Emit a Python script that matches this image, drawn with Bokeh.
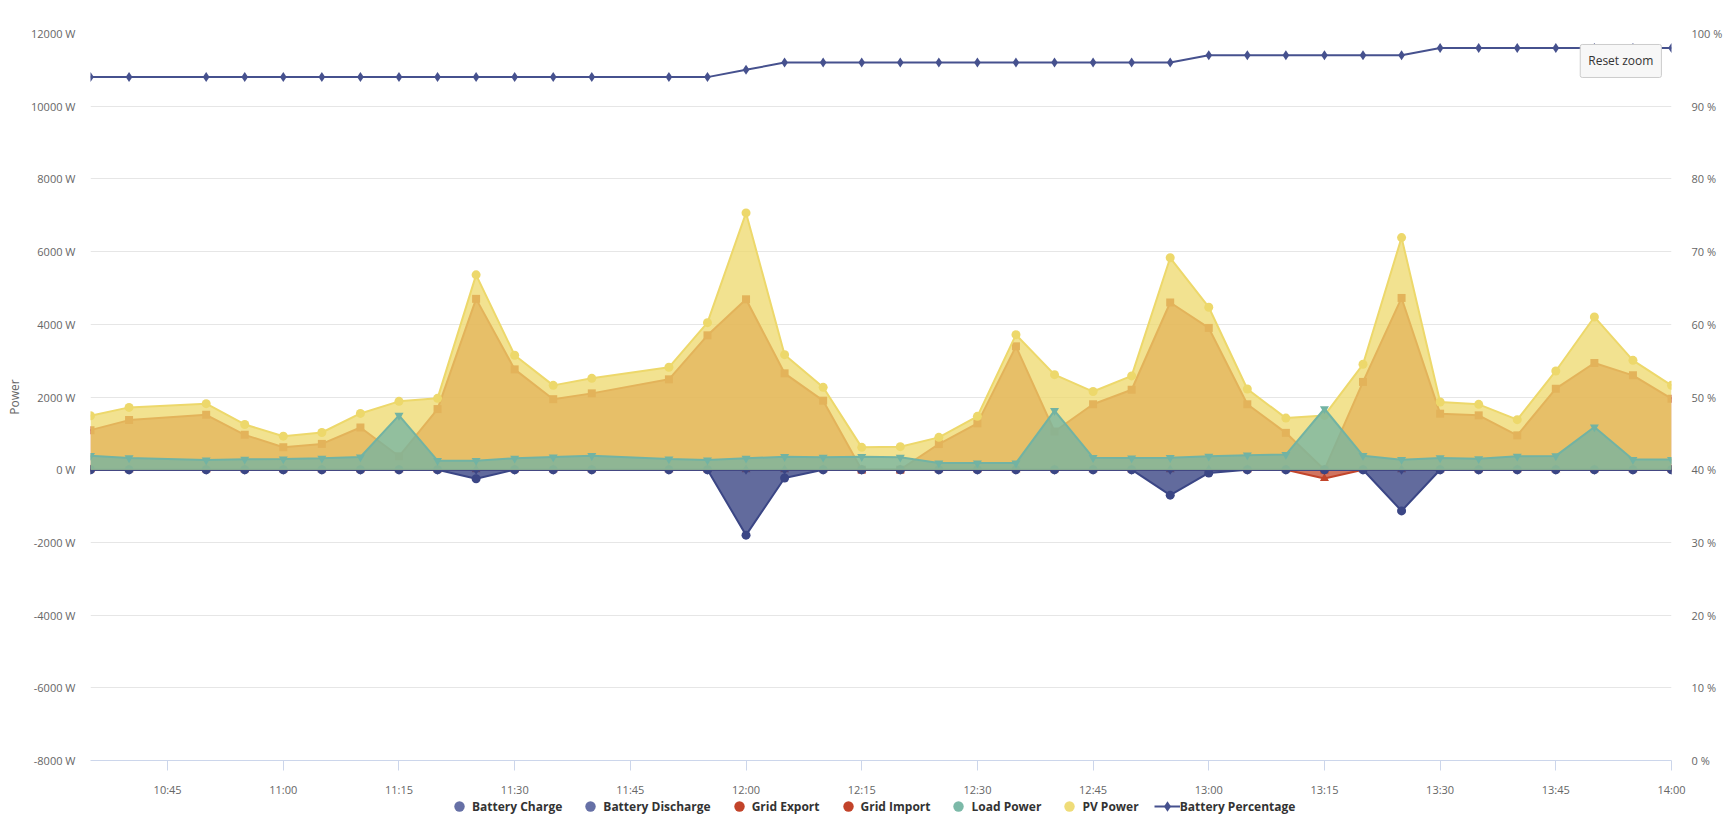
import pandas as pd
from bokeh.plotting import figure
from bokeh.layouts import column
from bokeh.models import (Range1d, LinearAxis, FixedTicker, PrintfTickFormatter,
                          DatetimeTickFormatter, Legend, LegendItem, Label)
from bokeh.embed import file_html
from bokeh.resources import INLINE

# ---------------- data ----------------
times = ["10:35", "10:40", "10:50", "10:55", "11:00", "11:05", "11:10", "11:15", "11:20", "11:25",
         "11:30", "11:35", "11:40", "11:50", "11:55", "12:00", "12:05", "12:10", "12:15", "12:20",
         "12:25", "12:30", "12:35", "12:40", "12:45", "12:50", "12:55", "13:00", "13:05", "13:10",
         "13:15", "13:20", "13:25", "13:30", "13:35", "13:40", "13:45", "13:50", "13:55", "14:00"]

battery_charge = [0, 0, 0, 0, 0, 0, 0, 0, 0, -249,
                  0, 0, 0, 0, 0, -1800, -229, 0, 0, 0,
                  0, 0, 0, 0, 0, 0, -700, -90, 0, 0,
                  0, 0, -1134, 0, 0, 0, 0, 0, 0, 0]
battery_discharge = [0, 0, 0, 0, 0, 0, 0, 0, 0, 0,
                     0, 0, 0, 0, 0, 0, 0, 0, 0, 0,
                     0, 0, 0, 0, 0, 0, 0, 0, 0, 0,
                     0, 0, 0, 0, 0, 0, 0, 0, 0, 0]
grid_export = [1088, 1364, 1511, 959, 618, 710, 1161, 369, 1668, 4700,
               2760, 1940, 2100, 2486, 3697, 4688, 2651, 1899, 0, 0,
               706, 1275, 3394, 1050, 1800, 2200, 4600, 3900, 1800, 1014,
               0, 2415, 4725, 1541, 1495, 945, 2229, 2936, 2596, 1954]
grid_import = [0, 0, 0, 0, 0, 0, 0, 0, 0, 0,
               0, 0, 0, 0, 0, 0, 0, 0, 0, 0,
               0, 0, 0, 0, 0, 0, 0, 0, 0, 0,
               -240, 0, 0, 0, 0, 0, 0, 0, 0, 0]
load_power = [387, 323, 267, 286, 295, 313, 350, 1493, 249, 249,
              313, 350, 385, 294, 266, 312, 358, 340, 358, 340,
              183, 183, 183, 1624, 330, 320, 330, 370, 400, 415,
              1677, 387, 276, 323, 300, 370, 380, 1174, 280, 280]
pv_power = [1484, 1714, 1816, 1244, 922, 1023, 1548, 1880, 1963, 5360,
            3150, 2320, 2514, 2817, 4046, 7064, 3165, 2266, 615, 633,
            890, 1468, 3715, 2615, 2150, 2580, 5830, 4470, 2220, 1419,
            1493, 2900, 6385, 1862, 1798, 1376, 2716, 4202, 3009, 2321]
battery_pct = [94, 94, 94, 94, 94, 94, 94, 94, 94, 94,
               94, 94, 94, 94, 94, 95, 96, 96, 96, 96,
               96, 96, 96, 96, 96, 96, 96, 97, 97, 97,
               97, 97, 97, 98, 98, 98, 98, 98, 98, 98]

x_tick_labels = ["10:45", "11:00", "11:15", "11:30", "11:45", "12:00", "12:15", "12:30",
                 "12:45", "13:00", "13:15", "13:30", "13:45", "14:00"]
power_ticks = [-8000, -6000, -4000, -2000, 0, 2000, 4000, 6000, 8000, 10000, 12000]
pct_ticks = [0, 10, 20, 30, 40, 50, 60, 70, 80, 90, 100]

series_names = ["Battery Charge", "Battery Discharge", "Grid Export", "Grid Import",
                "Load Power", "PV Power", "Battery Percentage"]

# ---------------- helpers ----------------
DAY = "2024-01-01 "
x = pd.to_datetime([DAY + t for t in times])
x_ticks_ms = [int(pd.Timestamp(DAY + t).value // 10**6) for t in x_tick_labels]

FONT = "Open Sans"
BAT = "#3b4685"
RED = "#c2452b"
TEAL = "#72b3a3"
YEL = "#edd86b"
PCT = "#46518e"

p = figure(frame_width=1581, frame_height=727, x_axis_type="datetime",
           x_range=Range1d(x[0], x[-1]), y_range=Range1d(-8000, 12000),
           output_backend="svg", toolbar_location=None,
           min_border_left=90, min_border_right=56, min_border_top=33, min_border_bottom=0)
p.outline_line_color = None
p.background_fill_color = "white"
p.border_fill_color = "white"
p.extra_y_ranges = {"pct": Range1d(0, 100)}

# left axis
ya = p.yaxis[0]
ya.ticker = FixedTicker(ticks=power_ticks)
ya.formatter = PrintfTickFormatter(format="%d W")
ya.axis_line_color = None
ya.major_tick_line_color = None
ya.major_tick_out = 0
ya.major_tick_in = 0
ya.minor_tick_line_color = None
ya.minor_tick_out = 0
ya.major_label_text_font = FONT
ya.major_label_text_font_size = "11px"
ya.major_label_text_color = "#666666"
ya.major_label_standoff = 15
ya.axis_label = "Power"
ya.axis_label_text_font = FONT
ya.axis_label_text_font_size = "12px"
ya.axis_label_text_font_style = "normal"
ya.axis_label_text_color = "#666666"
ya.axis_label_standoff = 5

# grid
p.xgrid.grid_line_color = None
p.ygrid.ticker = FixedTicker(ticks=power_ticks)
p.ygrid.grid_line_color = "#e6e6e6"

# right axis
ra = LinearAxis(y_range_name="pct", ticker=FixedTicker(ticks=pct_ticks),
                formatter=PrintfTickFormatter(format="%d %%"))
ra.axis_line_color = None
ra.major_tick_line_color = None
ra.major_tick_out = 0
ra.major_tick_in = 0
ra.minor_tick_line_color = None
ra.minor_tick_out = 0
ra.major_label_text_font = FONT
ra.major_label_text_font_size = "11px"
ra.major_label_text_color = "#666666"
ra.major_label_standoff = 20
p.add_layout(ra, "right")

# x axis
xa = p.xaxis[0]
xa.ticker = FixedTicker(ticks=x_ticks_ms)
xa.formatter = DatetimeTickFormatter(minutes="%H:%M", hourmin="%H:%M", hours="%H:%M",
                                     minsec="%H:%M", seconds="%H:%M")
xa.axis_line_color = "#ccd6eb"
xa.major_tick_line_color = "#ccd6eb"
xa.major_tick_out = 10
xa.major_tick_in = 0
xa.minor_tick_line_color = None
xa.minor_tick_out = 0
xa.major_label_text_font = FONT
xa.major_label_text_font_size = "11px"
xa.major_label_text_color = "#666666"
xa.major_label_standoff = 11


def area(vals, color, marker, size, fill_alpha=0.75):
    p.varea(x=x, y1=0, y2=vals, fill_color=color, fill_alpha=fill_alpha)
    p.line(x, vals, line_color=color, line_width=2)
    p.scatter(x, vals, marker=marker, size=size, fill_color=color, line_color=None)


# drawing order
area(grid_export, RED, "square", 8)
area(grid_import, RED, "triangle", 9)
area(battery_charge, BAT, "circle", 9, fill_alpha=0.8)
area(battery_discharge, BAT, "diamond", 10, fill_alpha=0.8)
area(pv_power, YEL, "circle", 9)
area(load_power, TEAL, "inverted_triangle", 9)

p.line(x, battery_pct, y_range_name="pct", line_color=PCT, line_width=2)
p.scatter(x, battery_pct, y_range_name="pct", marker="diamond", size=10,
          fill_color=PCT, line_color=None)

# reset zoom button
reset = Label(x=pd.Timestamp(DAY + "13:48:10"), y=11244, text="Reset zoom",
              text_font=FONT, text_font_size="12px", text_color="#333333",
              text_baseline="middle", text_align="left",
              background_fill_color="#f7f7f7", border_line_color="#cccccc",
              padding=8, border_radius=2)
p.add_layout(reset)

# ---------------- legend strip (separate figure below the chart) ----------------
lg = figure(frame_width=1727, frame_height=26, x_range=Range1d(0, 1), y_range=Range1d(0, 1),
            output_backend="svg", toolbar_location=None,
            min_border_left=0, min_border_right=0, min_border_top=0, min_border_bottom=0,
            margin=(-6, 0, 0, 0))
lg.axis.visible = False
lg.grid.visible = False
lg.outline_line_color = None
lg.background_fill_alpha = 0
lg.border_fill_alpha = 0

leg_colors = ["#6670a6", "#6670a6", "#c2432a", "#c2432a", "#7cb9a8", "#efdc78"]
items = []
for name, c in zip(series_names[:6], leg_colors):
    r = lg.scatter(x=[-5], y=[-5], marker="circle", fill_color=c, line_color=None)
    items.append(LegendItem(label=name, renderers=[r]))
rl = lg.line(x=[-6, -5], y=[-5, -5], line_color=PCT, line_width=2)
rd = lg.scatter(x=[-5], y=[-5], marker="diamond", fill_color=PCT, line_color=None)
items.append(LegendItem(label=series_names[6], renderers=[rl, rd]))

legend = Legend(items=items, orientation="horizontal", location=(446, 0),
                glyph_width=26, glyph_height=26, label_height=26, label_standoff=0,
                spacing=15, padding=0, margin=0,
                border_line_color=None, background_fill_alpha=0,
                label_text_font=FONT, label_text_font_size="12px",
                label_text_font_style="bold", label_text_color="#333333")
lg.add_layout(legend)

layout = column(p, lg, spacing=0)
open("out.html", "w").write(file_html(layout, INLINE))
